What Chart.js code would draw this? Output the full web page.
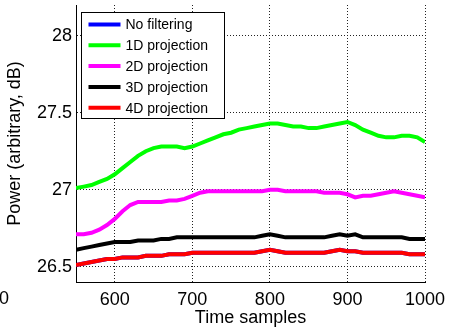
<!DOCTYPE html>
<html>
<head>
<meta charset="utf-8">
<script src="https://cdn.jsdelivr.net/npm/chart.js@4/dist/chart.umd.min.js"></script>
<style>
  html, body { margin: 0; padding: 0; background: #fff; }
  #wrap { width: 449px; height: 329px; }
</style>
</head>
<body>
<div id="wrap"><canvas id="c" width="449" height="329"></canvas></div>
<script>
// Time sample positions (every 10 samples)
const samples = [550,560,570,580,590,600,610,620,630,640,650,660,670,680,690,700,710,720,730,740,750,760,770,780,790,800,810,820,830,840,850,860,870,880,890,900,910,920,930,940,950,960,970,980,990,1000];

// Power (dB) per method
const noFiltering = [26.51,26.52,26.53,26.54,26.55,26.55,26.56,26.56,26.56,26.57,26.57,26.57,26.58,26.58,26.58,26.59,26.59,26.59,26.59,26.59,26.59,26.59,26.59,26.59,26.60,26.61,26.60,26.59,26.59,26.59,26.59,26.59,26.59,26.60,26.61,26.60,26.60,26.59,26.59,26.59,26.59,26.59,26.59,26.58,26.58,26.58];
const proj1D = [27.01,27.02,27.03,27.05,27.07,27.10,27.14,27.18,27.22,27.25,27.27,27.28,27.28,27.28,27.27,27.28,27.30,27.32,27.34,27.36,27.37,27.39,27.40,27.41,27.42,27.43,27.43,27.42,27.41,27.41,27.40,27.40,27.41,27.42,27.43,27.44,27.42,27.39,27.37,27.35,27.34,27.34,27.35,27.35,27.34,27.31];
const proj2D = [26.71,26.71,26.72,26.74,26.77,26.81,26.86,26.90,26.92,26.92,26.92,26.92,26.93,26.93,26.94,26.96,26.98,26.99,26.99,26.99,26.99,26.99,26.99,26.99,26.99,27.00,27.00,26.99,26.99,26.99,26.99,26.99,26.98,26.98,26.98,26.97,26.95,26.96,26.96,26.97,26.98,26.99,26.98,26.97,26.96,26.95];
const proj3D = [26.61,26.62,26.63,26.64,26.65,26.66,26.66,26.66,26.67,26.67,26.67,26.68,26.68,26.69,26.69,26.69,26.69,26.69,26.69,26.69,26.69,26.69,26.69,26.69,26.70,26.71,26.70,26.69,26.69,26.69,26.69,26.69,26.69,26.70,26.71,26.70,26.71,26.69,26.69,26.69,26.69,26.69,26.69,26.68,26.68,26.68];
const proj4D = [26.51,26.52,26.53,26.54,26.55,26.55,26.56,26.56,26.56,26.57,26.57,26.57,26.58,26.58,26.58,26.59,26.59,26.59,26.59,26.59,26.59,26.59,26.59,26.59,26.60,26.61,26.60,26.59,26.59,26.59,26.59,26.59,26.59,26.60,26.61,26.60,26.60,26.59,26.59,26.59,26.59,26.59,26.59,26.58,26.58,26.58];

const seriesNames = ['No filtering','1D projection','2D projection','3D projection','4D projection'];
const seriesColors = ['#0000ff','#00ff00','#ff00ff','#000000','#ff0000'];
const seriesValues = [noFiltering, proj1D, proj2D, proj3D, proj4D];

const xTicks = [600,700,800,900,1000];
const yTicks = [26.5,27,27.5,28];

const FONT = '"Liberation Sans", Arial, sans-serif';

// later series are plotted over earlier ones
const datasets = seriesValues.map((vals, i) => ({
  label: seriesNames[i],
  data: samples.map((s, j) => ({ x: s, y: vals[j] })),
  borderColor: seriesColors[i],
  backgroundColor: seriesColors[i],
  borderWidth: 4,
  pointRadius: 0,
  tension: 0,
  fill: false,
  order: seriesValues.length - i
}));

// Boxed legend drawn inside the plot area, top-left
const boxLegend = {
  id: 'boxLegend',
  afterDraw(chart) {
    const ctx = chart.ctx;
    const area = chart.chartArea;
    const x0 = area.left + 5.5, y0 = area.top + 7.5, w = 143, h = 106;
    ctx.save();
    ctx.fillStyle = '#fff';
    ctx.fillRect(x0, y0, w, h);
    ctx.strokeStyle = '#000';
    ctx.lineWidth = 1;
    ctx.strokeRect(x0, y0, w, h);
    ctx.font = '14px ' + FONT;
    ctx.textBaseline = 'middle';
    chart.data.datasets.forEach((ds, i) => {
      const cy = y0 + 12 + i * 20.8;
      ctx.strokeStyle = ds.borderColor;
      ctx.lineWidth = 4;
      ctx.beginPath();
      ctx.moveTo(x0 + 7, cy);
      ctx.lineTo(x0 + 39, cy);
      ctx.stroke();
      ctx.fillStyle = '#000';
      ctx.fillText(ds.label, x0 + 44, cy + 1);
    });
    // clipped leftmost tick label
    ctx.font = '18px ' + FONT;
    ctx.textAlign = 'right';
    ctx.fillText('0', 9, chart.scales.x.bottom - 30);
    ctx.restore();
  }
};

new Chart(document.getElementById('c'), {
  type: 'line',
  data: { datasets },
  plugins: [boxLegend],
  options: {
    responsive: false,
    animation: false,
    layout: { padding: { top: 5, right: 24, left: 0, bottom: 0 } },
    plugins: { legend: { display: false }, tooltip: { enabled: false } },
    scales: {
      x: {
        type: 'linear',
        min: 550, max: 1000,
        afterBuildTicks: s => { s.ticks = xTicks.map(v => ({ value: v })); },
        afterFit: s => { s.height = 47; s.paddingLeft = 0; s.paddingRight = 0; },
        grid: { color: '#222', lineWidth: 1, drawTicks: false },
        border: { display: true, color: '#000', width: 1, dash: [1, 2] },
        ticks: { color: '#000', font: { family: FONT, size: 18 }, padding: 7, maxRotation: 0, callback: v => String(v) },
        title: { display: true, text: 'Time samples', color: '#000', font: { family: FONT, size: 18 }, padding: { top: 0, bottom: 0 } }
      },
      y: {
        type: 'linear',
        min: 26.4, max: 28.2,
        afterBuildTicks: s => { s.ticks = yTicks.map(v => ({ value: v })); },
        afterFit: s => { s.width = 76; s.paddingTop = 0; s.paddingBottom = 0; },
        grid: { color: '#222', lineWidth: 1, drawTicks: false },
        border: { display: true, color: '#000', width: 1, dash: [1, 2] },
        ticks: { color: '#000', font: { family: FONT, size: 18 }, padding: 4, callback: v => String(v) },
        title: { display: true, text: 'Power (arbitrary, dB)', color: '#000', font: { family: FONT, size: 18 }, padding: { top: 4, bottom: 0 } }
      }
    }
  }
});
</script>
</body>
</html>
